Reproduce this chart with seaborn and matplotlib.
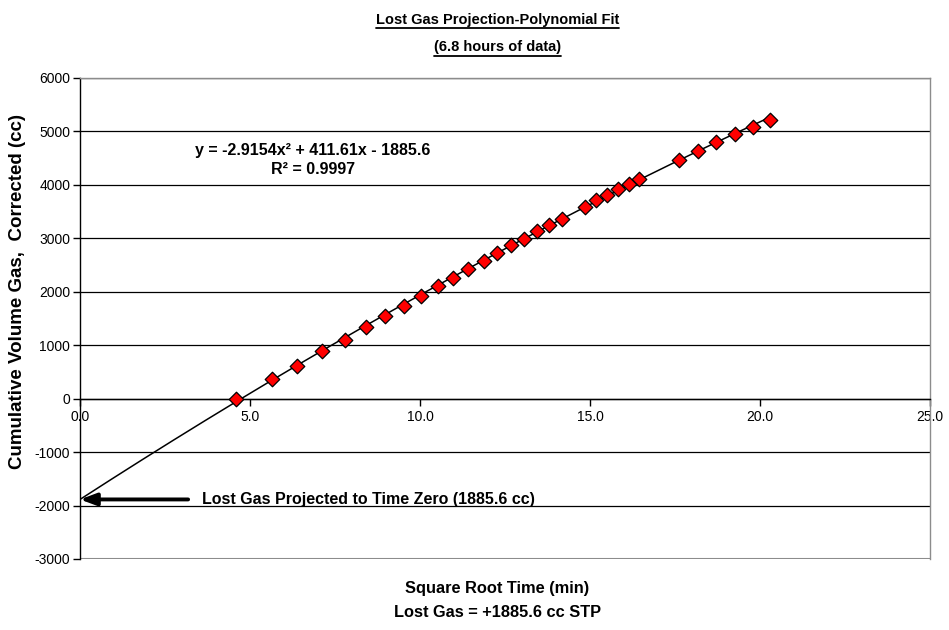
import numpy as np
import pandas as pd
import matplotlib.pyplot as plt
import seaborn as sns
from matplotlib.lines import Line2D

# square root time (min) and corrected cumulative gas volume (cc)
sqrt_time = [4.58, 5.65, 6.38, 7.13, 7.79, 8.42, 8.97, 9.53, 10.03, 10.52,
             10.98, 11.42, 11.87, 12.27, 12.68, 13.06, 13.44, 13.80, 14.17,
             14.85, 15.18, 15.51, 15.82, 16.14, 16.45, 17.63, 18.18, 18.71,
             19.27, 19.79, 20.30]
cum_volume = [0, 368, 619, 887, 1093, 1337, 1540, 1730, 1912, 2099,
              2256, 2424, 2585, 2729, 2873, 2996, 3134, 3252, 3370,
              3594, 3720, 3819, 3928, 4019, 4109, 4460, 4636, 4798,
              4948, 5084, 5215]
# trendline coefficients (highest power first)
fit_coef = [-2.9154, 411.61, -1885.6]
r_squared = 0.9997
lost_gas = 1885.6
x_ticks = [0, 5, 10, 15, 20, 25]
y_ticks = [-3000, -2000, -1000, 0, 1000, 2000, 3000, 4000, 5000, 6000]

sns.set_theme(style="white")
plt.rcParams["font.family"] = ["Liberation Sans", "DejaVu Sans"]
plt.rcParams["text.color"] = "black"
plt.rcParams["xtick.color"] = "black"
plt.rcParams["ytick.color"] = "black"
plt.rcParams["axes.labelcolor"] = "black"
bold_font = ["Liberation Sans", "DejaVu Sans"]

df = pd.DataFrame({"x": sqrt_time, "y": cum_volume})
xs = np.linspace(0, max(sqrt_time), 200)
fit_df = pd.DataFrame({"x": xs, "y": np.polyval(fit_coef, xs)})

fig = plt.figure(figsize=(9.49, 6.30), dpi=100)
ax = fig.add_axes([0.0843, 0.1127, 0.8957, 0.7635])

sns.lineplot(data=fit_df, x="x", y="y", ax=ax, color="black", lw=1.1, zorder=3)
sns.scatterplot(data=df, x="x", y="y", ax=ax, marker="D", s=55, color="#ff0000",
                edgecolor="black", linewidth=0.9, zorder=4)

ax.set_xlim(x_ticks[0], x_ticks[-1])
ax.set_ylim(y_ticks[0], y_ticks[-1])
ax.set_xticks(x_ticks)
ax.set_xticklabels([f"{t:.1f}" for t in x_ticks])
ax.set_yticks(y_ticks)
ax.set_yticklabels([str(t) for t in y_ticks])
ax.yaxis.grid(True, color="black", lw=0.9)
ax.set_axisbelow(True)

ax.spines["bottom"].set_position(("data", 0))
ax.spines["bottom"].set_color("black")
ax.spines["left"].set_color("black")
ax.spines["top"].set_color("#8c8c8c")
ax.spines["right"].set_color("#8c8c8c")
for s in ax.spines.values():
    s.set_linewidth(1.0)
ax.axhline(y_ticks[0], color="#8c8c8c", lw=1.5, zorder=2)

ax.tick_params(axis="x", direction="out", length=5, width=1, color="black",
               labelsize=10, pad=3, bottom=True, labelcolor="black")
ax.tick_params(axis="y", direction="out", length=5, width=1, color="black",
               labelsize=10, pad=2, left=True, labelcolor="black")
ax.set_xlabel("")
ax.set_ylabel("")

# trendline equation
eq = (f"y = {fit_coef[0]}x² + {fit_coef[1]}x - {abs(fit_coef[2])}\n"
      f"R² = {r_squared}")
ax.text(6.84, 4463, eq, ha="center", va="center", multialignment="center",
        fontsize=11.5, fontweight="bold", family=bold_font, linespacing=1.3)

# lost gas arrow
ax.annotate("", xy=(0, -lost_gas), xytext=(3.18, -lost_gas),
            arrowprops=dict(arrowstyle="-|>,head_length=0.8,head_width=0.3",
                            color="black", lw=2.8, shrinkA=0, shrinkB=0),
            zorder=5)
ax.text(3.59, -lost_gas, f"Lost Gas Projected to Time Zero ({lost_gas} cc)",
        ha="left", va="center", fontsize=11.5, fontweight="bold",
        family=bold_font)

# titles / labels
t1 = fig.text(0.524, 0.968, "Lost Gas Projection-Polynomial Fit", ha="center",
              va="center", fontsize=10.5, fontweight="bold", family=bold_font)
t2 = fig.text(0.524, 0.925, "(6.8 hours of data)", ha="center", va="center",
              fontsize=10.5, fontweight="bold", family=bold_font)
fig.text(0.524, 0.066, "Square Root Time (min)", ha="center", va="center",
         fontsize=11.8, fontweight="bold", family=bold_font)
fig.text(0.524, 0.028, f"Lost Gas = +{lost_gas} cc STP", ha="center",
         va="center", fontsize=11.8, fontweight="bold", family=bold_font)
fig.text(0.018, 0.538, "Cumulative Volume Gas,  Corrected (cc)", ha="center",
         va="center", rotation=90, fontsize=13.5, fontweight="bold",
         family=bold_font)

# underline the title lines
fig.canvas.draw()
r = fig.canvas.get_renderer()
for t in (t1, t2):
    bb = t.get_window_extent(r).transformed(fig.transFigure.inverted())
    yline = bb.y0 - 0.002
    fig.add_artist(Line2D([bb.x0, bb.x1], [yline, yline],
                          transform=fig.transFigure, color="black", lw=1.3))

fig.savefig("out.png", dpi=100)
